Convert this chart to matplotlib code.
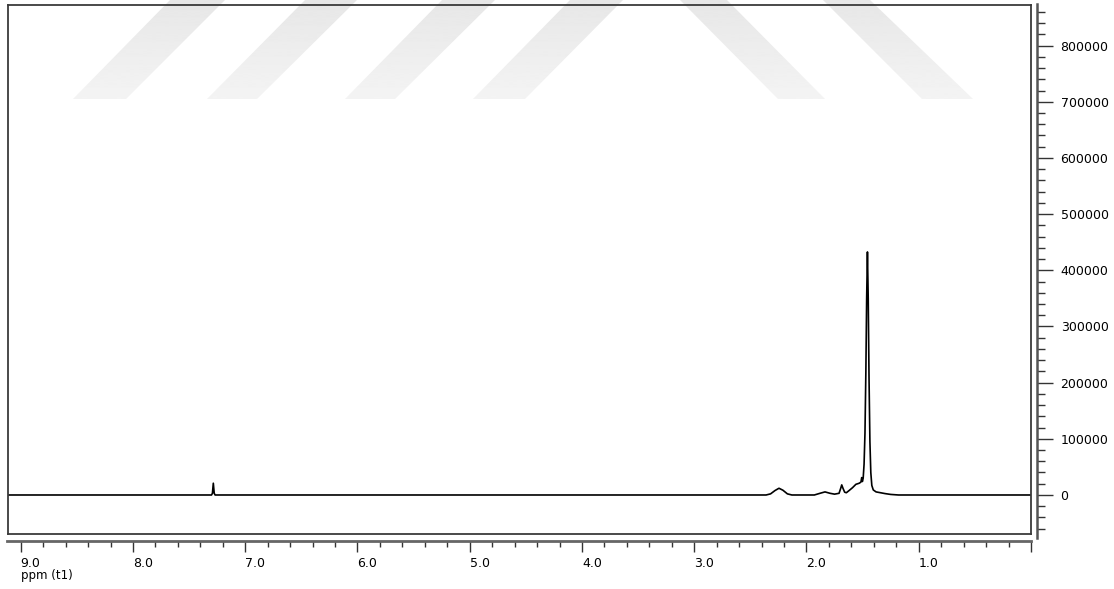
"""
1H NMR spectrum (ppm axis reversed, intensity axis on the right).
Writes: out.png
"""

import matplotlib
matplotlib.use("Agg")
import matplotlib.pyplot as plt
from matplotlib.patches import PathPatch
from matplotlib.path import Path
import numpy as np

plt.rcParams.update({
    "font.family": "DejaVu Sans",
    "font.size": 9,
})

# ---------------------------------------------------------------------------
# Data (ppm, intensity)
# ---------------------------------------------------------------------------
ppm = [9.11, 7.300, 7.292, 7.284, 7.276, 7.268,
       2.36, 2.32, 2.28, 2.245, 2.21, 2.17, 2.13,
       1.93, 1.88, 1.835, 1.79, 1.75,
       1.71, 1.695, 1.686, 1.675, 1.66, 1.645,
       1.62, 1.59, 1.56, 1.545, 1.53, 1.515, 1.508, 1.502, 1.495,
       1.487, 1.479, 1.471, 1.464, 1.457, 1.450, 1.443, 1.435, 1.427,
       1.418, 1.405, 1.38, 1.34, 1.30, 1.25, 1.18, 0.0]
intensity = [0, 0, 3000, 21000, 3000, 0,
             0, 2000, 8000, 12000, 8500, 2000, 0,
             0, 3000, 5500, 3000, 1500,
             3000, 12000, 18000, 12000, 5000, 4000,
             8000, 13000, 19000, 20000, 21000, 23000, 31000, 24000, 30000,
             55000, 110000, 220000, 350000, 433000, 350000, 210000, 95000, 40000,
             17000, 9000, 5500, 4000, 2500, 1000, 0, 0]

x_major = [9, 8, 7, 6, 5, 4, 3, 2, 1, 0]
x_labels = ["9.0", "8.0", "7.0", "6.0", "5.0", "4.0", "3.0", "2.0", "1.0", ""]
y_major = [0, 100000, 200000, 300000, 400000, 500000, 600000, 700000, 800000]

# ---------------------------------------------------------------------------
# Layout helpers (pixel -> figure fraction)
# ---------------------------------------------------------------------------
W, H = 1114, 589


def fx(px):
    return px / W


def fy(py):
    return 1 - py / H


fig = plt.figure(figsize=(W / 100, H / 100), dpi=100)

# watermark bands, light grey fading toward the bottom
wm = fig.add_axes([0, 0, 1, 1], zorder=-1)
wm.set_xlim(0, W)
wm.set_ylim(H, 0)
wm.axis("off")
bands = [
    [(73, 99), (126, 99), (225, 0), (170, 0)],
    [(207, 99), (257, 99), (357, 0), (305, 0)],
    [(345, 99), (395, 99), (495, 0), (442, 0)],
    [(473, 99), (525, 99), (623, 0), (570, 0)],
    [(680, 0), (727, 0), (825, 99), (778, 99)],
    [(823, 0), (870, 0), (973, 99), (922, 99)],
]
band_path = Path.make_compound_path(*[Path(b + [b[0]], closed=True) for b in bands])
clip = PathPatch(band_path, facecolor="none", edgecolor="none",
                 transform=wm.transData)
wm.add_patch(clip)
grad = np.linspace(0.905, 0.955, 100).reshape(-1, 1)
img = wm.imshow(grad, cmap="gray", vmin=0, vmax=1, aspect="auto",
                extent=(0, W, 99, 0), interpolation="bilinear")
img.set_clip_path(clip)
wm.set_xlim(0, W)
wm.set_ylim(H, 0)

# main plotting frame
ax = fig.add_axes([fx(8), fy(534), fx(1031) - fx(8), fy(5) - fy(534)])
ax.set_facecolor("none")
ax.plot(ppm, intensity, color="black", linewidth=1.2)
ax.set_xlim(9.113, 0.0)
ax.set_ylim(-69500, 873000)
ax.set_xticks([])
ax.set_yticks([])
for s in ax.spines.values():
    s.set_color("#3a3a3a")
    s.set_linewidth(1.3)

# right intensity axis
ay = fig.add_axes([fx(1036), fy(538), fx(1), fy(4) - fy(538)])
ay.set_facecolor("none")
ay.set_ylim(-76600, 874000)
ay.set_xticks([])
for k in ("left", "top", "bottom"):
    ay.spines[k].set_visible(False)
ay.spines["right"].set_color("#555555")
ay.spines["right"].set_linewidth(1.8)
ay.yaxis.tick_right()
ay.set_yticks(y_major)
ay.set_yticklabels([str(v) for v in y_major])
ay.set_yticks([v for v in range(-60000, 880000, 20000) if v % 100000], minor=True)
ay.tick_params(axis="y", which="major", length=11.5, width=1.0, pad=5.5,
               labelsize=9, color="#333333")
ay.tick_params(axis="y", which="minor", length=5.8, width=1.0, color="#333333")

# bottom ppm axis
bx = fig.add_axes([fx(7), fy(541), fx(1031) - fx(7), 1 / H])
bx.set_facecolor("none")
bx.set_xlim(9.122, 0.0)
bx.set_yticks([])
for k in ("left", "top", "right"):
    bx.spines[k].set_visible(False)
bx.spines["bottom"].set_color("#666666")
bx.spines["bottom"].set_linewidth(2.0)
bx.set_xticks(x_major)
bx.set_xticklabels(x_labels, ha="left")
bx.set_xticks(np.arange(0.2, 9.05, 0.2), minor=True)
bx.tick_params(axis="x", which="major", length=8, width=1.0, pad=3.5,
               labelsize=9, color="#333333")
bx.tick_params(axis="x", which="minor", length=4.3, width=1.0, color="#333333")

fig.text(fx(21), fy(576), "ppm (t1)", ha="left", va="center", fontsize=8.5)

fig.savefig("out.png", dpi=100)
